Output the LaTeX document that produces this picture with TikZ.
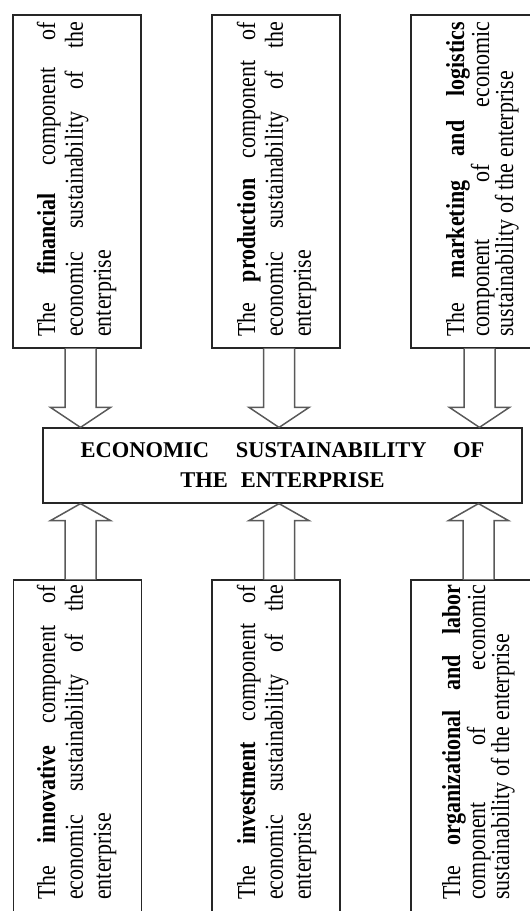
\documentclass[tikz,border=0pt]{standalone}
\usepackage{fontspec}
\setmainfont{Liberation Serif}
\usetikzlibrary{calc}
\newcommand\vpar[2]{\scalebox{1}[1.18]{\parbox[t]{315pt}{\fontsize{22}{#1}\selectfont #2}}}
\newcommand\myarrow[3]{%
  \draw[barrow] ($(#1)+(-15.5,0)$) -- ($(#2)+(-15.5,#3)$) -- ($(#2)+(-30,#3)$) -- (#2)
    -- ($(#2)+(30,#3)$) -- ($(#2)+(15.5,#3)$) -- ($(#1)+(15.5,0)$);}
\tikzset{
  box/.style={draw=black!85, line width=1.2pt, fill=white, minimum width=128pt, minimum height=333pt, inner sep=0pt},
  vtext/.style={rotate=90, anchor=base west, inner sep=0pt},
  barrow/.style={draw=black!65, line width=1.5pt, fill=white, line join=miter},
  mainbox/.style={draw=black!85, line width=1.2pt, fill=white, minimum width=479pt, minimum height=75pt, inner sep=0pt, align=center, font=\fontsize{22.5}{30}\selectfont\bfseries}
}
\begin{document}
\begin{tikzpicture}[x=1pt,y=1pt]
\useasboundingbox (0,0) rectangle (530,-911);
\fill[white] (0,0) rectangle (530,-911);
\clip (0,0) rectangle (530,-911);
% top boxes
\node[box] (f1) at (77,-181.5) {};
\node[box] (f2) at (276,-181.5) {};
\node[box] (f3) at (475,-181.5) {};
% bottom boxes
\node[box] (b1) at (77.5,-746.5) {};
\node[box] (b2) at (276,-746.5) {};
\node[box] (b3) at (475,-746.5) {};
% centre box
\node[mainbox] (c) at (282.5,-465.5) {\makebox[404pt][s]{ECONOMIC SUSTAINABILITY OF}\\THE\hspace{13pt}ENTERPRISE};
% arrow axes
\coordinate (x1) at (80.5,0);
\coordinate (x2) at (279,0);
\coordinate (x3) at (479.5,0);
\coordinate (y1) at (80.5,0);
\coordinate (y2) at (279,0);
\coordinate (y3) at (478.5,0);
\myarrow{f1.south -| x1}{c.north -| x1}{20}
\myarrow{f2.south -| x2}{c.north -| x2}{20}
\myarrow{f3.south -| x3}{c.north -| x3}{20}
\myarrow{b1.north -| y1}{c.south -| y1}{-17}
\myarrow{b2.north -| y2}{c.south -| y2}{-17}
\myarrow{b3.north -| y3}{c.south -| y3}{-17}
% texts
\node[vtext] (t1) at (55,-337) {\vpar{23.7}{The \textbf{financial} component of\linebreak economic sustainability of the\linebreak enterprise}};
\node[vtext] (t2) at (255,-337) {\vpar{23.7}{The \textbf{production} component of\linebreak economic sustainability of the\linebreak enterprise}};
\node[vtext] (t3) at (464,-337) {\vpar{20.3}{The \textbf{marketing and logistics}\linebreak component of economic\linebreak sustainability of the enterprise}};
\node[vtext] (t4) at (55,-900) {\vpar{23.7}{The \textbf{innovative} component of\linebreak economic sustainability of the\linebreak enterprise}};
\node[vtext] (t5) at (255,-900) {\vpar{23.7}{The \textbf{investment} component of\linebreak economic sustainability of the\linebreak enterprise}};
\node[vtext] (t6) at (460,-900) {\vpar{20.3}{The \textbf{organizational and labor}\linebreak component of economic\linebreak sustainability of the enterprise}};
\end{tikzpicture}
\end{document}
